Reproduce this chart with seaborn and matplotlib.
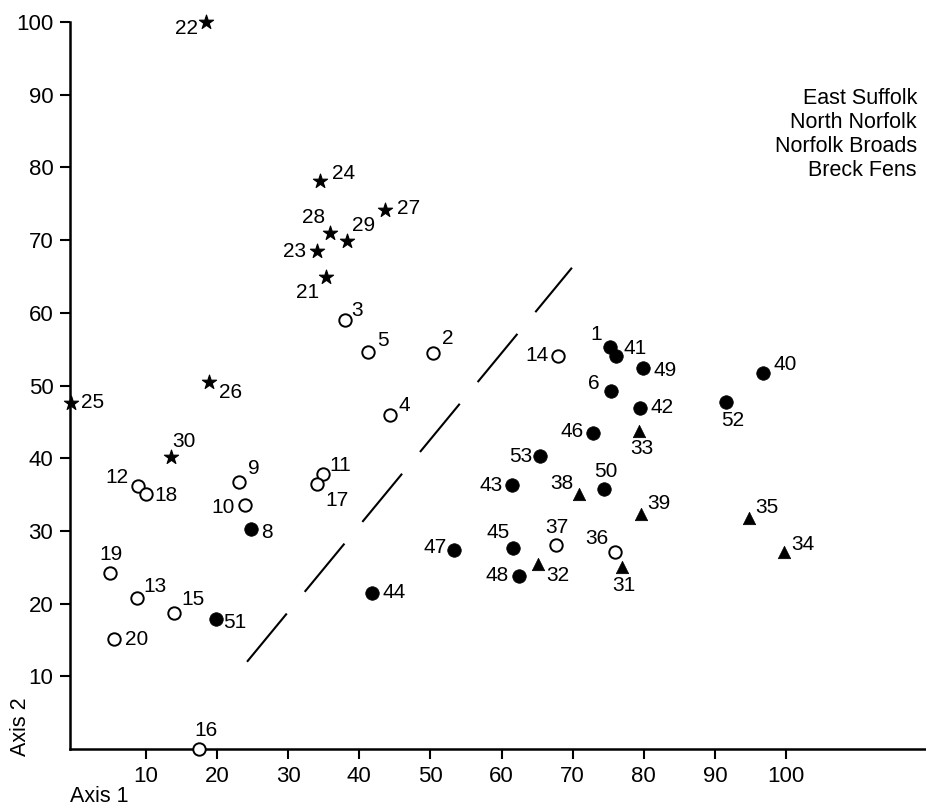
"""
Ordination scatter (Axis 1 vs Axis 2) of 53 sites, grouped by region,
with a dashed dividing line between the two main clusters.
"""

import pandas as pd
import matplotlib.pyplot as plt
import seaborn as sns

sns.set_style("ticks", {"axes.edgecolor": "black", "text.color": "black",
                        "xtick.color": "black", "ytick.color": "black",
                        "axes.labelcolor": "black"})
plt.rcParams["font.family"] = ["Liberation Sans", "DejaVu Sans"]

# --- data -------------------------------------------------------------
site_ids = [
    22, 24, 27, 28, 29, 23, 21, 26, 25, 30,
    3, 5, 2, 4, 14, 11, 17, 9, 10, 12, 18, 19, 13, 15, 20, 16, 37, 36,
    1, 41, 49, 6, 42, 40, 52, 46, 53, 43, 50, 8, 47, 45, 48, 44, 51,
    33, 38, 39, 32, 31, 35, 34,
]
axis1 = [
    18.4, 34.5, 43.6, 35.9, 38.3, 34.0, 35.3, 18.9, -0.6, 13.5,
    38.0, 41.2, 50.4, 44.3, 67.9, 34.9, 34.0, 23.1, 23.9, 8.9, 10.0, 4.9,
    8.7, 13.9, 5.5, 17.4, 67.6, 75.9,
    75.2, 76.1, 79.9, 75.4, 79.5, 96.8, 91.6, 72.8, 65.4, 61.5, 74.4, 24.8,
    53.3, 61.6, 62.4, 41.8, 19.8,
    79.3, 70.9, 79.6, 65.1, 76.9, 94.8, 99.7,
]
axis2 = [
    100.0, 78.1, 74.1, 71.0, 69.9, 68.5, 64.9, 50.5, 47.6, 40.2,
    59.0, 54.6, 54.5, 45.9, 54.1, 37.8, 36.5, 36.7, 33.6, 36.2, 35.1, 24.2,
    20.8, 18.7, 15.1, 0.0, 28.1, 27.1,
    55.3, 54.1, 52.4, 49.2, 46.9, 51.7, 47.7, 43.5, 40.3, 36.3, 35.8, 30.3,
    27.4, 27.6, 23.8, 21.5, 17.9,
    43.7, 35.1, 32.3, 25.4, 25.0, 31.8, 27.1,
]
region = (
    ["Breck Fens"] * 10
    + ["East Suffolk"] * 18
    + ["Norfolk Broads"] * 17
    + ["North Norfolk"] * 7
)
legend_labels = ["East Suffolk", "North Norfolk", "Norfolk Broads", "Breck Fens"]

divider_x = [24.2, 69.9]
divider_y = [12.0, 66.2]

x_ticks = [10, 20, 30, 40, 50, 60, 70, 80, 90, 100]
y_ticks = [10, 20, 30, 40, 50, 60, 70, 80, 90, 100]

# label offsets (pixels, right / down) from each marker
label_offset = {
    22: (-19, 6), 24: (23, -8), 27: (24, -2), 28: (-17, -15), 29: (16, -15),
    23: (-22, 0), 21: (-18, 15), 26: (21, 11), 25: (22, 0), 30: (13, -15),
    3: (12, -10), 5: (15, -12), 2: (14, -14), 4: (14, -10), 14: (-21, 0),
    11: (17, -9), 17: (20, 17), 9: (15, -14), 10: (-22, 3), 12: (-21, -8),
    18: (20, 2), 19: (1, -19), 13: (18, -11), 15: (19, -14), 20: (23, 0),
    16: (7, -18), 37: (1, -17), 36: (-18, -13),
    1: (-13, -12), 41: (19, -7), 49: (22, 2), 6: (-17, -8), 42: (22, -1),
    40: (22, -9), 52: (6, 18), 46: (-20, -1), 53: (-19, 0), 43: (-21, 0),
    50: (2, -17), 8: (16, 4), 47: (-19, -2), 45: (-15, -16), 48: (-21, 0),
    44: (22, 0), 51: (19, 4),
    33: (3, 17), 38: (-17, -10), 39: (18, -11), 32: (20, 11), 31: (2, 18),
    35: (18, -10), 34: (19, -7),
}

marker_style = {
    "East Suffolk": dict(marker="o", s=80, facecolor="white", edgecolor="black", linewidth=1.4),
    "Norfolk Broads": dict(marker="o", s=95, facecolor="black", edgecolor="black", linewidth=0.5),
    "North Norfolk": dict(marker="^", s=80, facecolor="black", edgecolor="black", linewidth=0.5),
    "Breck Fens": dict(marker="*", s=115, facecolor="black", edgecolor="black", linewidth=0.8),
}


def main():
    df = pd.DataFrame({"site": site_ids, "axis1": axis1, "axis2": axis2, "region": region})

    fig = plt.figure(figsize=(9.26, 8.08), dpi=100)
    ax = fig.add_axes([70 / 926, 59 / 808, 856 / 926, 727 / 808])

    for name, style in marker_style.items():
        sub = df[df["region"] == name]
        sns.scatterplot(data=sub, x="axis1", y="axis2", ax=ax, clip_on=False,
                        zorder=3, legend=False, **style)

    for _, row in df.iterrows():
        dx, dy = label_offset[row["site"]]
        ax.annotate(str(row["site"]), (row["axis1"], row["axis2"]),
                    xytext=(dx, -dy), textcoords="offset pixels", color="black",
                    ha="center", va="center", fontsize=15, annotation_clip=False)

    ax.plot(divider_x, divider_y, color="black", linewidth=1.5,
            linestyle=(0, (30, 13.5)), solid_capstyle="butt")

    ax.set_xlim(-0.7, 119.7)
    ax.set_ylim(0, 100)
    ax.set_xticks(x_ticks)
    ax.set_yticks(y_ticks)
    ax.tick_params(labelsize=16, length=7, width=1.5, pad=5, direction="out",
                   colors="black")
    sns.despine(ax=ax)
    for side in ["left", "bottom"]:
        ax.spines[side].set_linewidth(1.8)
        ax.spines[side].set_color("black")

    ax.set_xlabel("")
    ax.set_ylabel("")
    fig.text(70 / 926, 1 - 797 / 808, "Axis 1", fontsize=15.5, ha="left",
             va="center", color="black")
    fig.text(20 / 926, 1 - 727 / 808, "Axis 2", fontsize=15.5, rotation=90,
             ha="center", va="center", color="black")

    for i, name in enumerate(legend_labels):
        fig.text(917 / 926, 1 - (98 + 24 * i) / 808, name, fontsize=15.5,
                 ha="right", va="center", color="black")

    fig.savefig("out.png", dpi=100)
    plt.close(fig)


if __name__ == "__main__":
    main()
